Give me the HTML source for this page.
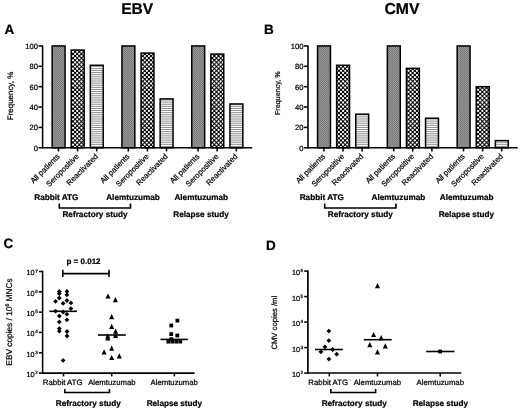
<!DOCTYPE html>
<html><head><meta charset="utf-8"><title>EBV / CMV</title>
<style>html,body{margin:0;padding:0;background:#fff;}body{width:520px;height:410px;overflow:hidden;}svg{display:block;filter:grayscale(1) blur(0.3px);text-rendering:geometricPrecision;}text{stroke:#000;stroke-width:0.22px;font-family:'Liberation Sans', sans-serif;}</style>
</head><body>
<svg width="520" height="410" viewBox="0 0 520 410" font-family='"Liberation Sans", sans-serif' fill="#000">
<defs>
<filter id="bl" x="-10%" y="-10%" width="120%" height="120%"><feGaussianBlur stdDeviation="0.45"/></filter>
</defs>
<rect width="520" height="410" fill="#fff"/>
<text x="137.2" y="14.0" font-size="15.6" font-weight="bold" text-anchor="middle">EBV</text>
<text x="402.0" y="14.1" font-size="15.8" font-weight="bold" text-anchor="middle">CMV</text>
<text x="4.4" y="34.2" font-size="13.5" font-weight="bold" text-anchor="start">A</text>
<text x="264.1" y="34.2" font-size="13.5" font-weight="bold" text-anchor="start">B</text>
<text x="3.4" y="248.2" font-size="13.5" font-weight="bold" text-anchor="start">C</text>
<text x="266.0" y="249.6" font-size="13.5" font-weight="bold" text-anchor="start">D</text>
<clipPath id="c1"><rect x="52.15" y="45.95" width="12.90" height="101.80"/></clipPath>
<rect x="52.15" y="45.95" width="12.90" height="101.80" fill="#a4a4a4"/>
<g clip-path="url(#c1)"><g stroke="#6c6c6c" stroke-width="1.026" stroke-dasharray="1.026 1.026" fill="none"><path d="M50.792 46.493H67.10M50.792 48.545H67.10M50.792 50.597H67.10M50.792 52.649H67.10M50.792 54.701H67.10M50.792 56.753H67.10M50.792 58.805H67.10M50.792 60.857H67.10M50.792 62.909H67.10M50.792 64.961H67.10M50.792 67.013H67.10M50.792 69.065H67.10M50.792 71.117H67.10M50.792 73.169H67.10M50.792 75.221H67.10M50.792 77.273H67.10M50.792 79.325H67.10M50.792 81.377H67.10M50.792 83.429H67.10M50.792 85.481H67.10M50.792 87.533H67.10M50.792 89.585H67.10M50.792 91.637H67.10M50.792 93.689H67.10M50.792 95.741H67.10M50.792 97.793H67.10M50.792 99.845H67.10M50.792 101.897H67.10M50.792 103.949H67.10M50.792 106.001H67.10M50.792 108.053H67.10M50.792 110.105H67.10M50.792 112.157H67.10M50.792 114.209H67.10M50.792 116.261H67.10M50.792 118.313H67.10M50.792 120.365H67.10M50.792 122.417H67.10M50.792 124.469H67.10M50.792 126.521H67.10M50.792 128.573H67.10M50.792 130.625H67.10M50.792 132.677H67.10M50.792 134.729H67.10M50.792 136.781H67.10M50.792 138.833H67.10M50.792 140.885H67.10M50.792 142.937H67.10M50.792 144.989H67.10M50.792 147.041H67.10"/><path d="M50.792 45.467H67.10M50.792 47.519H67.10M50.792 49.571H67.10M50.792 51.623H67.10M50.792 53.675H67.10M50.792 55.727H67.10M50.792 57.779H67.10M50.792 59.831H67.10M50.792 61.883H67.10M50.792 63.935H67.10M50.792 65.987H67.10M50.792 68.039H67.10M50.792 70.091H67.10M50.792 72.143H67.10M50.792 74.195H67.10M50.792 76.247H67.10M50.792 78.299H67.10M50.792 80.351H67.10M50.792 82.403H67.10M50.792 84.455H67.10M50.792 86.507H67.10M50.792 88.559H67.10M50.792 90.611H67.10M50.792 92.663H67.10M50.792 94.715H67.10M50.792 96.767H67.10M50.792 98.819H67.10M50.792 100.871H67.10M50.792 102.923H67.10M50.792 104.975H67.10M50.792 107.027H67.10M50.792 109.079H67.10M50.792 111.131H67.10M50.792 113.183H67.10M50.792 115.235H67.10M50.792 117.287H67.10M50.792 119.339H67.10M50.792 121.391H67.10M50.792 123.443H67.10M50.792 125.495H67.10M50.792 127.547H67.10M50.792 129.599H67.10M50.792 131.651H67.10M50.792 133.703H67.10M50.792 135.755H67.10M50.792 137.807H67.10M50.792 139.859H67.10M50.792 141.911H67.10M50.792 143.963H67.10M50.792 146.015H67.10M50.792 148.067H67.10" stroke-dashoffset="1.026"/></g></g>
<rect x="52.15" y="45.95" width="12.9" height="101.80" fill="none" stroke="#000" stroke-width="1.5"/>
<clipPath id="c2"><rect x="71.25" y="50.02" width="12.90" height="97.73"/></clipPath>
<rect x="71.25" y="50.02" width="12.90" height="97.73" fill="#000"/>
<g clip-path="url(#c2)" stroke="#fff" stroke-width="2.3" stroke-linecap="round" stroke-dasharray="0 4.22" fill="none"><path d="M64.56 47.63H88.37M64.56 51.85H88.37M64.56 56.07H88.37M64.56 60.29H88.37M64.56 64.51H88.37M64.56 68.73H88.37M64.56 72.95H88.37M64.56 77.17H88.37M64.56 81.39H88.37M64.56 85.61H88.37M64.56 89.83H88.37M64.56 94.05H88.37M64.56 98.27H88.37M64.56 102.49H88.37M64.56 106.71H88.37M64.56 110.93H88.37M64.56 115.15H88.37M64.56 119.37H88.37M64.56 123.59H88.37M64.56 127.81H88.37M64.56 132.03H88.37M64.56 136.25H88.37M64.56 140.47H88.37M64.56 144.69H88.37M64.56 148.91H88.37"/><path d="M66.67 49.74H88.37M66.67 53.96H88.37M66.67 58.18H88.37M66.67 62.40H88.37M66.67 66.62H88.37M66.67 70.84H88.37M66.67 75.06H88.37M66.67 79.28H88.37M66.67 83.50H88.37M66.67 87.72H88.37M66.67 91.94H88.37M66.67 96.16H88.37M66.67 100.38H88.37M66.67 104.60H88.37M66.67 108.82H88.37M66.67 113.04H88.37M66.67 117.26H88.37M66.67 121.48H88.37M66.67 125.70H88.37M66.67 129.92H88.37M66.67 134.14H88.37M66.67 138.36H88.37M66.67 142.58H88.37M66.67 146.80H88.37"/></g>
<rect x="71.25" y="50.02" width="12.9" height="97.73" fill="none" stroke="#000" stroke-width="1.5"/>
<clipPath id="c3"><rect x="90.35" y="65.29" width="12.90" height="82.46"/></clipPath>
<path clip-path="url(#c3)" d="M90.35 64.14H103.25M90.35 66.25H103.25M90.35 68.36H103.25M90.35 70.47H103.25M90.35 72.58H103.25M90.35 74.69H103.25M90.35 76.80H103.25M90.35 78.91H103.25M90.35 81.02H103.25M90.35 83.13H103.25M90.35 85.24H103.25M90.35 87.35H103.25M90.35 89.46H103.25M90.35 91.57H103.25M90.35 93.68H103.25M90.35 95.79H103.25M90.35 97.90H103.25M90.35 100.01H103.25M90.35 102.12H103.25M90.35 104.23H103.25M90.35 106.34H103.25M90.35 108.45H103.25M90.35 110.56H103.25M90.35 112.67H103.25M90.35 114.78H103.25M90.35 116.89H103.25M90.35 119.00H103.25M90.35 121.11H103.25M90.35 123.22H103.25M90.35 125.33H103.25M90.35 127.44H103.25M90.35 129.55H103.25M90.35 131.66H103.25M90.35 133.77H103.25M90.35 135.88H103.25M90.35 137.99H103.25M90.35 140.10H103.25M90.35 142.21H103.25M90.35 144.32H103.25M90.35 146.43H103.25M90.35 148.54H103.25" stroke="#000" stroke-width="0.45" fill="none"/>
<rect x="90.35" y="65.29" width="12.9" height="82.46" fill="none" stroke="#000" stroke-width="1.5"/>
<clipPath id="c4"><rect x="121.95" y="45.95" width="12.90" height="101.80"/></clipPath>
<rect x="121.95" y="45.95" width="12.90" height="101.80" fill="#a4a4a4"/>
<g clip-path="url(#c4)"><g stroke="#6c6c6c" stroke-width="1.026" stroke-dasharray="1.026 1.026" fill="none"><path d="M119.792 46.493H136.90M119.792 48.545H136.90M119.792 50.597H136.90M119.792 52.649H136.90M119.792 54.701H136.90M119.792 56.753H136.90M119.792 58.805H136.90M119.792 60.857H136.90M119.792 62.909H136.90M119.792 64.961H136.90M119.792 67.013H136.90M119.792 69.065H136.90M119.792 71.117H136.90M119.792 73.169H136.90M119.792 75.221H136.90M119.792 77.273H136.90M119.792 79.325H136.90M119.792 81.377H136.90M119.792 83.429H136.90M119.792 85.481H136.90M119.792 87.533H136.90M119.792 89.585H136.90M119.792 91.637H136.90M119.792 93.689H136.90M119.792 95.741H136.90M119.792 97.793H136.90M119.792 99.845H136.90M119.792 101.897H136.90M119.792 103.949H136.90M119.792 106.001H136.90M119.792 108.053H136.90M119.792 110.105H136.90M119.792 112.157H136.90M119.792 114.209H136.90M119.792 116.261H136.90M119.792 118.313H136.90M119.792 120.365H136.90M119.792 122.417H136.90M119.792 124.469H136.90M119.792 126.521H136.90M119.792 128.573H136.90M119.792 130.625H136.90M119.792 132.677H136.90M119.792 134.729H136.90M119.792 136.781H136.90M119.792 138.833H136.90M119.792 140.885H136.90M119.792 142.937H136.90M119.792 144.989H136.90M119.792 147.041H136.90"/><path d="M119.792 45.467H136.90M119.792 47.519H136.90M119.792 49.571H136.90M119.792 51.623H136.90M119.792 53.675H136.90M119.792 55.727H136.90M119.792 57.779H136.90M119.792 59.831H136.90M119.792 61.883H136.90M119.792 63.935H136.90M119.792 65.987H136.90M119.792 68.039H136.90M119.792 70.091H136.90M119.792 72.143H136.90M119.792 74.195H136.90M119.792 76.247H136.90M119.792 78.299H136.90M119.792 80.351H136.90M119.792 82.403H136.90M119.792 84.455H136.90M119.792 86.507H136.90M119.792 88.559H136.90M119.792 90.611H136.90M119.792 92.663H136.90M119.792 94.715H136.90M119.792 96.767H136.90M119.792 98.819H136.90M119.792 100.871H136.90M119.792 102.923H136.90M119.792 104.975H136.90M119.792 107.027H136.90M119.792 109.079H136.90M119.792 111.131H136.90M119.792 113.183H136.90M119.792 115.235H136.90M119.792 117.287H136.90M119.792 119.339H136.90M119.792 121.391H136.90M119.792 123.443H136.90M119.792 125.495H136.90M119.792 127.547H136.90M119.792 129.599H136.90M119.792 131.651H136.90M119.792 133.703H136.90M119.792 135.755H136.90M119.792 137.807H136.90M119.792 139.859H136.90M119.792 141.911H136.90M119.792 143.963H136.90M119.792 146.015H136.90M119.792 148.067H136.90" stroke-dashoffset="1.026"/></g></g>
<rect x="121.95" y="45.95" width="12.9" height="101.80" fill="none" stroke="#000" stroke-width="1.5"/>
<clipPath id="c5"><rect x="141.05" y="53.08" width="12.90" height="94.67"/></clipPath>
<rect x="141.05" y="53.08" width="12.90" height="94.67" fill="#000"/>
<g clip-path="url(#c5)" stroke="#fff" stroke-width="2.3" stroke-linecap="round" stroke-dasharray="0 4.22" fill="none"><path d="M136.30 51.85H158.17M136.30 56.07H158.17M136.30 60.29H158.17M136.30 64.51H158.17M136.30 68.73H158.17M136.30 72.95H158.17M136.30 77.17H158.17M136.30 81.39H158.17M136.30 85.61H158.17M136.30 89.83H158.17M136.30 94.05H158.17M136.30 98.27H158.17M136.30 102.49H158.17M136.30 106.71H158.17M136.30 110.93H158.17M136.30 115.15H158.17M136.30 119.37H158.17M136.30 123.59H158.17M136.30 127.81H158.17M136.30 132.03H158.17M136.30 136.25H158.17M136.30 140.47H158.17M136.30 144.69H158.17M136.30 148.91H158.17"/><path d="M138.41 49.74H158.17M138.41 53.96H158.17M138.41 58.18H158.17M138.41 62.40H158.17M138.41 66.62H158.17M138.41 70.84H158.17M138.41 75.06H158.17M138.41 79.28H158.17M138.41 83.50H158.17M138.41 87.72H158.17M138.41 91.94H158.17M138.41 96.16H158.17M138.41 100.38H158.17M138.41 104.60H158.17M138.41 108.82H158.17M138.41 113.04H158.17M138.41 117.26H158.17M138.41 121.48H158.17M138.41 125.70H158.17M138.41 129.92H158.17M138.41 134.14H158.17M138.41 138.36H158.17M138.41 142.58H158.17M138.41 146.80H158.17"/></g>
<rect x="141.05" y="53.08" width="12.9" height="94.67" fill="none" stroke="#000" stroke-width="1.5"/>
<clipPath id="c6"><rect x="160.15" y="98.89" width="12.90" height="48.86"/></clipPath>
<path clip-path="url(#c6)" d="M160.15 97.90H173.05M160.15 100.01H173.05M160.15 102.12H173.05M160.15 104.23H173.05M160.15 106.34H173.05M160.15 108.45H173.05M160.15 110.56H173.05M160.15 112.67H173.05M160.15 114.78H173.05M160.15 116.89H173.05M160.15 119.00H173.05M160.15 121.11H173.05M160.15 123.22H173.05M160.15 125.33H173.05M160.15 127.44H173.05M160.15 129.55H173.05M160.15 131.66H173.05M160.15 133.77H173.05M160.15 135.88H173.05M160.15 137.99H173.05M160.15 140.10H173.05M160.15 142.21H173.05M160.15 144.32H173.05M160.15 146.43H173.05M160.15 148.54H173.05" stroke="#000" stroke-width="0.45" fill="none"/>
<rect x="160.15" y="98.89" width="12.9" height="48.86" fill="none" stroke="#000" stroke-width="1.5"/>
<clipPath id="c7"><rect x="191.75" y="45.95" width="12.90" height="101.80"/></clipPath>
<rect x="191.75" y="45.95" width="12.90" height="101.80" fill="#a4a4a4"/>
<g clip-path="url(#c7)"><g stroke="#6c6c6c" stroke-width="1.026" stroke-dasharray="1.026 1.026" fill="none"><path d="M189.792 46.493H206.70M189.792 48.545H206.70M189.792 50.597H206.70M189.792 52.649H206.70M189.792 54.701H206.70M189.792 56.753H206.70M189.792 58.805H206.70M189.792 60.857H206.70M189.792 62.909H206.70M189.792 64.961H206.70M189.792 67.013H206.70M189.792 69.065H206.70M189.792 71.117H206.70M189.792 73.169H206.70M189.792 75.221H206.70M189.792 77.273H206.70M189.792 79.325H206.70M189.792 81.377H206.70M189.792 83.429H206.70M189.792 85.481H206.70M189.792 87.533H206.70M189.792 89.585H206.70M189.792 91.637H206.70M189.792 93.689H206.70M189.792 95.741H206.70M189.792 97.793H206.70M189.792 99.845H206.70M189.792 101.897H206.70M189.792 103.949H206.70M189.792 106.001H206.70M189.792 108.053H206.70M189.792 110.105H206.70M189.792 112.157H206.70M189.792 114.209H206.70M189.792 116.261H206.70M189.792 118.313H206.70M189.792 120.365H206.70M189.792 122.417H206.70M189.792 124.469H206.70M189.792 126.521H206.70M189.792 128.573H206.70M189.792 130.625H206.70M189.792 132.677H206.70M189.792 134.729H206.70M189.792 136.781H206.70M189.792 138.833H206.70M189.792 140.885H206.70M189.792 142.937H206.70M189.792 144.989H206.70M189.792 147.041H206.70"/><path d="M189.792 45.467H206.70M189.792 47.519H206.70M189.792 49.571H206.70M189.792 51.623H206.70M189.792 53.675H206.70M189.792 55.727H206.70M189.792 57.779H206.70M189.792 59.831H206.70M189.792 61.883H206.70M189.792 63.935H206.70M189.792 65.987H206.70M189.792 68.039H206.70M189.792 70.091H206.70M189.792 72.143H206.70M189.792 74.195H206.70M189.792 76.247H206.70M189.792 78.299H206.70M189.792 80.351H206.70M189.792 82.403H206.70M189.792 84.455H206.70M189.792 86.507H206.70M189.792 88.559H206.70M189.792 90.611H206.70M189.792 92.663H206.70M189.792 94.715H206.70M189.792 96.767H206.70M189.792 98.819H206.70M189.792 100.871H206.70M189.792 102.923H206.70M189.792 104.975H206.70M189.792 107.027H206.70M189.792 109.079H206.70M189.792 111.131H206.70M189.792 113.183H206.70M189.792 115.235H206.70M189.792 117.287H206.70M189.792 119.339H206.70M189.792 121.391H206.70M189.792 123.443H206.70M189.792 125.495H206.70M189.792 127.547H206.70M189.792 129.599H206.70M189.792 131.651H206.70M189.792 133.703H206.70M189.792 135.755H206.70M189.792 137.807H206.70M189.792 139.859H206.70M189.792 141.911H206.70M189.792 143.963H206.70M189.792 146.015H206.70M189.792 148.067H206.70" stroke-dashoffset="1.026"/></g></g>
<rect x="191.75" y="45.95" width="12.9" height="101.80" fill="none" stroke="#000" stroke-width="1.5"/>
<clipPath id="c8"><rect x="210.85" y="54.09" width="12.90" height="93.66"/></clipPath>
<rect x="210.85" y="54.09" width="12.90" height="93.66" fill="#000"/>
<g clip-path="url(#c8)" stroke="#fff" stroke-width="2.3" stroke-linecap="round" stroke-dasharray="0 4.22" fill="none"><path d="M203.82 51.85H227.97M203.82 56.07H227.97M203.82 60.29H227.97M203.82 64.51H227.97M203.82 68.73H227.97M203.82 72.95H227.97M203.82 77.17H227.97M203.82 81.39H227.97M203.82 85.61H227.97M203.82 89.83H227.97M203.82 94.05H227.97M203.82 98.27H227.97M203.82 102.49H227.97M203.82 106.71H227.97M203.82 110.93H227.97M203.82 115.15H227.97M203.82 119.37H227.97M203.82 123.59H227.97M203.82 127.81H227.97M203.82 132.03H227.97M203.82 136.25H227.97M203.82 140.47H227.97M203.82 144.69H227.97M203.82 148.91H227.97"/><path d="M205.93 53.96H227.97M205.93 58.18H227.97M205.93 62.40H227.97M205.93 66.62H227.97M205.93 70.84H227.97M205.93 75.06H227.97M205.93 79.28H227.97M205.93 83.50H227.97M205.93 87.72H227.97M205.93 91.94H227.97M205.93 96.16H227.97M205.93 100.38H227.97M205.93 104.60H227.97M205.93 108.82H227.97M205.93 113.04H227.97M205.93 117.26H227.97M205.93 121.48H227.97M205.93 125.70H227.97M205.93 129.92H227.97M205.93 134.14H227.97M205.93 138.36H227.97M205.93 142.58H227.97M205.93 146.80H227.97"/></g>
<rect x="210.85" y="54.09" width="12.9" height="93.66" fill="none" stroke="#000" stroke-width="1.5"/>
<clipPath id="c9"><rect x="229.95" y="103.98" width="12.90" height="43.77"/></clipPath>
<path clip-path="url(#c9)" d="M229.95 102.12H242.85M229.95 104.23H242.85M229.95 106.34H242.85M229.95 108.45H242.85M229.95 110.56H242.85M229.95 112.67H242.85M229.95 114.78H242.85M229.95 116.89H242.85M229.95 119.00H242.85M229.95 121.11H242.85M229.95 123.22H242.85M229.95 125.33H242.85M229.95 127.44H242.85M229.95 129.55H242.85M229.95 131.66H242.85M229.95 133.77H242.85M229.95 135.88H242.85M229.95 137.99H242.85M229.95 140.10H242.85M229.95 142.21H242.85M229.95 144.32H242.85M229.95 146.43H242.85M229.95 148.54H242.85" stroke="#000" stroke-width="0.45" fill="none"/>
<rect x="229.95" y="103.98" width="12.9" height="43.77" fill="none" stroke="#000" stroke-width="1.5"/>
<line x1="42.6" y1="45.4" x2="42.6" y2="148.45" stroke="#000" stroke-width="1.55"/>
<line x1="38.5" y1="147.75" x2="42.6" y2="147.75" stroke="#000" stroke-width="1.55"/>
<text x="38.0" y="150.6" font-size="7.6" text-anchor="end">0</text>
<line x1="38.5" y1="127.39" x2="42.6" y2="127.39" stroke="#000" stroke-width="1.55"/>
<text x="38.0" y="130.24" font-size="7.6" text-anchor="end">20</text>
<line x1="38.5" y1="107.03" x2="42.6" y2="107.03" stroke="#000" stroke-width="1.55"/>
<text x="38.0" y="109.88" font-size="7.6" text-anchor="end">40</text>
<line x1="38.5" y1="86.67" x2="42.6" y2="86.67" stroke="#000" stroke-width="1.55"/>
<text x="38.0" y="89.52" font-size="7.6" text-anchor="end">60</text>
<line x1="38.5" y1="66.31" x2="42.6" y2="66.31" stroke="#000" stroke-width="1.55"/>
<text x="38.0" y="69.16" font-size="7.6" text-anchor="end">80</text>
<line x1="38.5" y1="45.95" x2="42.6" y2="45.95" stroke="#000" stroke-width="1.55"/>
<text x="38.0" y="48.800000000000004" font-size="7.6" text-anchor="end">100</text>
<line x1="42.6" y1="147.75" x2="252.3" y2="147.75" stroke="#000" stroke-width="1.55"/>
<line x1="58.5" y1="147.75" x2="58.5" y2="151.45" stroke="#000" stroke-width="1.55"/>
<text x="60.3" y="157.0" font-size="7.75" text-anchor="end" transform="rotate(-45 60.3 157.0)">All patients</text>
<line x1="77.6" y1="147.75" x2="77.6" y2="151.45" stroke="#000" stroke-width="1.55"/>
<text x="79.4" y="157.0" font-size="7.75" text-anchor="end" transform="rotate(-45 79.4 157.0)">Seropositive</text>
<line x1="96.7" y1="147.75" x2="96.7" y2="151.45" stroke="#000" stroke-width="1.55"/>
<text x="98.5" y="157.0" font-size="7.75" text-anchor="end" transform="rotate(-45 98.5 157.0)">Reactivated</text>
<line x1="128.3" y1="147.75" x2="128.3" y2="151.45" stroke="#000" stroke-width="1.55"/>
<text x="130.1" y="157.0" font-size="7.75" text-anchor="end" transform="rotate(-45 130.1 157.0)">All patients</text>
<line x1="147.39999999999998" y1="147.75" x2="147.39999999999998" y2="151.45" stroke="#000" stroke-width="1.55"/>
<text x="149.2" y="157.0" font-size="7.75" text-anchor="end" transform="rotate(-45 149.2 157.0)">Seropositive</text>
<line x1="166.5" y1="147.75" x2="166.5" y2="151.45" stroke="#000" stroke-width="1.55"/>
<text x="168.3" y="157.0" font-size="7.75" text-anchor="end" transform="rotate(-45 168.3 157.0)">Reactivated</text>
<line x1="198.1" y1="147.75" x2="198.1" y2="151.45" stroke="#000" stroke-width="1.55"/>
<text x="199.9" y="157.0" font-size="7.75" text-anchor="end" transform="rotate(-45 199.9 157.0)">All patients</text>
<line x1="217.2" y1="147.75" x2="217.2" y2="151.45" stroke="#000" stroke-width="1.55"/>
<text x="219.0" y="157.0" font-size="7.75" text-anchor="end" transform="rotate(-45 219.0 157.0)">Seropositive</text>
<line x1="236.3" y1="147.75" x2="236.3" y2="151.45" stroke="#000" stroke-width="1.55"/>
<text x="238.1" y="157.0" font-size="7.75" text-anchor="end" transform="rotate(-45 238.1 157.0)">Reactivated</text>
<text x="13.2" y="96" font-size="7.95" text-anchor="middle" transform="rotate(-90 13.2 96)">Frequency, %</text>
<text x="34.3" y="199.7" font-size="8.2" font-weight="bold" text-anchor="start">Rabbit ATG</text>
<text x="106.2" y="199.7" font-size="8.2" font-weight="bold" text-anchor="start">Alemtuzumab</text>
<text x="174.4" y="199.7" font-size="8.2" font-weight="bold" text-anchor="start">Alemtuzumab</text>
<path d="M59.3 203.6V208H130.5V203.6" fill="none" stroke="#000" stroke-width="1.6"/>
<text x="95" y="217" font-size="8.2" font-weight="bold" text-anchor="middle">Refractory study</text>
<text x="201" y="217" font-size="8.2" font-weight="bold" text-anchor="middle">Relapse study</text>
<clipPath id="c10"><rect x="317.55" y="45.95" width="12.90" height="101.80"/></clipPath>
<rect x="317.55" y="45.95" width="12.90" height="101.80" fill="#a4a4a4"/>
<g clip-path="url(#c10)"><g stroke="#6c6c6c" stroke-width="1.026" stroke-dasharray="1.026 1.026" fill="none"><path d="M315.792 46.493H332.50M315.792 48.545H332.50M315.792 50.597H332.50M315.792 52.649H332.50M315.792 54.701H332.50M315.792 56.753H332.50M315.792 58.805H332.50M315.792 60.857H332.50M315.792 62.909H332.50M315.792 64.961H332.50M315.792 67.013H332.50M315.792 69.065H332.50M315.792 71.117H332.50M315.792 73.169H332.50M315.792 75.221H332.50M315.792 77.273H332.50M315.792 79.325H332.50M315.792 81.377H332.50M315.792 83.429H332.50M315.792 85.481H332.50M315.792 87.533H332.50M315.792 89.585H332.50M315.792 91.637H332.50M315.792 93.689H332.50M315.792 95.741H332.50M315.792 97.793H332.50M315.792 99.845H332.50M315.792 101.897H332.50M315.792 103.949H332.50M315.792 106.001H332.50M315.792 108.053H332.50M315.792 110.105H332.50M315.792 112.157H332.50M315.792 114.209H332.50M315.792 116.261H332.50M315.792 118.313H332.50M315.792 120.365H332.50M315.792 122.417H332.50M315.792 124.469H332.50M315.792 126.521H332.50M315.792 128.573H332.50M315.792 130.625H332.50M315.792 132.677H332.50M315.792 134.729H332.50M315.792 136.781H332.50M315.792 138.833H332.50M315.792 140.885H332.50M315.792 142.937H332.50M315.792 144.989H332.50M315.792 147.041H332.50"/><path d="M315.792 45.467H332.50M315.792 47.519H332.50M315.792 49.571H332.50M315.792 51.623H332.50M315.792 53.675H332.50M315.792 55.727H332.50M315.792 57.779H332.50M315.792 59.831H332.50M315.792 61.883H332.50M315.792 63.935H332.50M315.792 65.987H332.50M315.792 68.039H332.50M315.792 70.091H332.50M315.792 72.143H332.50M315.792 74.195H332.50M315.792 76.247H332.50M315.792 78.299H332.50M315.792 80.351H332.50M315.792 82.403H332.50M315.792 84.455H332.50M315.792 86.507H332.50M315.792 88.559H332.50M315.792 90.611H332.50M315.792 92.663H332.50M315.792 94.715H332.50M315.792 96.767H332.50M315.792 98.819H332.50M315.792 100.871H332.50M315.792 102.923H332.50M315.792 104.975H332.50M315.792 107.027H332.50M315.792 109.079H332.50M315.792 111.131H332.50M315.792 113.183H332.50M315.792 115.235H332.50M315.792 117.287H332.50M315.792 119.339H332.50M315.792 121.391H332.50M315.792 123.443H332.50M315.792 125.495H332.50M315.792 127.547H332.50M315.792 129.599H332.50M315.792 131.651H332.50M315.792 133.703H332.50M315.792 135.755H332.50M315.792 137.807H332.50M315.792 139.859H332.50M315.792 141.911H332.50M315.792 143.963H332.50M315.792 146.015H332.50M315.792 148.067H332.50" stroke-dashoffset="1.026"/></g></g>
<rect x="317.55" y="45.95" width="12.9" height="101.80" fill="none" stroke="#000" stroke-width="1.5"/>
<clipPath id="c11"><rect x="336.65" y="65.29" width="12.90" height="82.46"/></clipPath>
<rect x="336.65" y="65.29" width="12.90" height="82.46" fill="#000"/>
<g clip-path="url(#c11)" stroke="#fff" stroke-width="2.3" stroke-linecap="round" stroke-dasharray="0 4.22" fill="none"><path d="M330.42 64.51H353.77M330.42 68.73H353.77M330.42 72.95H353.77M330.42 77.17H353.77M330.42 81.39H353.77M330.42 85.61H353.77M330.42 89.83H353.77M330.42 94.05H353.77M330.42 98.27H353.77M330.42 102.49H353.77M330.42 106.71H353.77M330.42 110.93H353.77M330.42 115.15H353.77M330.42 119.37H353.77M330.42 123.59H353.77M330.42 127.81H353.77M330.42 132.03H353.77M330.42 136.25H353.77M330.42 140.47H353.77M330.42 144.69H353.77M330.42 148.91H353.77"/><path d="M332.53 62.40H353.77M332.53 66.62H353.77M332.53 70.84H353.77M332.53 75.06H353.77M332.53 79.28H353.77M332.53 83.50H353.77M332.53 87.72H353.77M332.53 91.94H353.77M332.53 96.16H353.77M332.53 100.38H353.77M332.53 104.60H353.77M332.53 108.82H353.77M332.53 113.04H353.77M332.53 117.26H353.77M332.53 121.48H353.77M332.53 125.70H353.77M332.53 129.92H353.77M332.53 134.14H353.77M332.53 138.36H353.77M332.53 142.58H353.77M332.53 146.80H353.77"/></g>
<rect x="336.65" y="65.29" width="12.9" height="82.46" fill="none" stroke="#000" stroke-width="1.5"/>
<clipPath id="c12"><rect x="355.75" y="114.16" width="12.90" height="33.59"/></clipPath>
<path clip-path="url(#c12)" d="M355.75 112.67H368.65M355.75 114.78H368.65M355.75 116.89H368.65M355.75 119.00H368.65M355.75 121.11H368.65M355.75 123.22H368.65M355.75 125.33H368.65M355.75 127.44H368.65M355.75 129.55H368.65M355.75 131.66H368.65M355.75 133.77H368.65M355.75 135.88H368.65M355.75 137.99H368.65M355.75 140.10H368.65M355.75 142.21H368.65M355.75 144.32H368.65M355.75 146.43H368.65M355.75 148.54H368.65" stroke="#000" stroke-width="0.45" fill="none"/>
<rect x="355.75" y="114.16" width="12.9" height="33.59" fill="none" stroke="#000" stroke-width="1.5"/>
<clipPath id="c13"><rect x="387.35" y="45.95" width="12.90" height="101.80"/></clipPath>
<rect x="387.35" y="45.95" width="12.90" height="101.80" fill="#a4a4a4"/>
<g clip-path="url(#c13)"><g stroke="#6c6c6c" stroke-width="1.026" stroke-dasharray="1.026 1.026" fill="none"><path d="M385.792 46.493H402.30M385.792 48.545H402.30M385.792 50.597H402.30M385.792 52.649H402.30M385.792 54.701H402.30M385.792 56.753H402.30M385.792 58.805H402.30M385.792 60.857H402.30M385.792 62.909H402.30M385.792 64.961H402.30M385.792 67.013H402.30M385.792 69.065H402.30M385.792 71.117H402.30M385.792 73.169H402.30M385.792 75.221H402.30M385.792 77.273H402.30M385.792 79.325H402.30M385.792 81.377H402.30M385.792 83.429H402.30M385.792 85.481H402.30M385.792 87.533H402.30M385.792 89.585H402.30M385.792 91.637H402.30M385.792 93.689H402.30M385.792 95.741H402.30M385.792 97.793H402.30M385.792 99.845H402.30M385.792 101.897H402.30M385.792 103.949H402.30M385.792 106.001H402.30M385.792 108.053H402.30M385.792 110.105H402.30M385.792 112.157H402.30M385.792 114.209H402.30M385.792 116.261H402.30M385.792 118.313H402.30M385.792 120.365H402.30M385.792 122.417H402.30M385.792 124.469H402.30M385.792 126.521H402.30M385.792 128.573H402.30M385.792 130.625H402.30M385.792 132.677H402.30M385.792 134.729H402.30M385.792 136.781H402.30M385.792 138.833H402.30M385.792 140.885H402.30M385.792 142.937H402.30M385.792 144.989H402.30M385.792 147.041H402.30"/><path d="M385.792 45.467H402.30M385.792 47.519H402.30M385.792 49.571H402.30M385.792 51.623H402.30M385.792 53.675H402.30M385.792 55.727H402.30M385.792 57.779H402.30M385.792 59.831H402.30M385.792 61.883H402.30M385.792 63.935H402.30M385.792 65.987H402.30M385.792 68.039H402.30M385.792 70.091H402.30M385.792 72.143H402.30M385.792 74.195H402.30M385.792 76.247H402.30M385.792 78.299H402.30M385.792 80.351H402.30M385.792 82.403H402.30M385.792 84.455H402.30M385.792 86.507H402.30M385.792 88.559H402.30M385.792 90.611H402.30M385.792 92.663H402.30M385.792 94.715H402.30M385.792 96.767H402.30M385.792 98.819H402.30M385.792 100.871H402.30M385.792 102.923H402.30M385.792 104.975H402.30M385.792 107.027H402.30M385.792 109.079H402.30M385.792 111.131H402.30M385.792 113.183H402.30M385.792 115.235H402.30M385.792 117.287H402.30M385.792 119.339H402.30M385.792 121.391H402.30M385.792 123.443H402.30M385.792 125.495H402.30M385.792 127.547H402.30M385.792 129.599H402.30M385.792 131.651H402.30M385.792 133.703H402.30M385.792 135.755H402.30M385.792 137.807H402.30M385.792 139.859H402.30M385.792 141.911H402.30M385.792 143.963H402.30M385.792 146.015H402.30M385.792 148.067H402.30" stroke-dashoffset="1.026"/></g></g>
<rect x="387.35" y="45.95" width="12.9" height="101.80" fill="none" stroke="#000" stroke-width="1.5"/>
<clipPath id="c14"><rect x="406.45" y="68.35" width="12.90" height="79.40"/></clipPath>
<rect x="406.45" y="68.35" width="12.90" height="79.40" fill="#000"/>
<g clip-path="url(#c14)" stroke="#fff" stroke-width="2.3" stroke-linecap="round" stroke-dasharray="0 4.22" fill="none"><path d="M402.16 64.51H423.57M402.16 68.73H423.57M402.16 72.95H423.57M402.16 77.17H423.57M402.16 81.39H423.57M402.16 85.61H423.57M402.16 89.83H423.57M402.16 94.05H423.57M402.16 98.27H423.57M402.16 102.49H423.57M402.16 106.71H423.57M402.16 110.93H423.57M402.16 115.15H423.57M402.16 119.37H423.57M402.16 123.59H423.57M402.16 127.81H423.57M402.16 132.03H423.57M402.16 136.25H423.57M402.16 140.47H423.57M402.16 144.69H423.57M402.16 148.91H423.57"/><path d="M404.27 66.62H423.57M404.27 70.84H423.57M404.27 75.06H423.57M404.27 79.28H423.57M404.27 83.50H423.57M404.27 87.72H423.57M404.27 91.94H423.57M404.27 96.16H423.57M404.27 100.38H423.57M404.27 104.60H423.57M404.27 108.82H423.57M404.27 113.04H423.57M404.27 117.26H423.57M404.27 121.48H423.57M404.27 125.70H423.57M404.27 129.92H423.57M404.27 134.14H423.57M404.27 138.36H423.57M404.27 142.58H423.57M404.27 146.80H423.57"/></g>
<rect x="406.45" y="68.35" width="12.9" height="79.40" fill="none" stroke="#000" stroke-width="1.5"/>
<clipPath id="c15"><rect x="425.55" y="118.23" width="12.90" height="29.52"/></clipPath>
<path clip-path="url(#c15)" d="M425.55 116.89H438.45M425.55 119.00H438.45M425.55 121.11H438.45M425.55 123.22H438.45M425.55 125.33H438.45M425.55 127.44H438.45M425.55 129.55H438.45M425.55 131.66H438.45M425.55 133.77H438.45M425.55 135.88H438.45M425.55 137.99H438.45M425.55 140.10H438.45M425.55 142.21H438.45M425.55 144.32H438.45M425.55 146.43H438.45M425.55 148.54H438.45" stroke="#000" stroke-width="0.45" fill="none"/>
<rect x="425.55" y="118.23" width="12.9" height="29.52" fill="none" stroke="#000" stroke-width="1.5"/>
<clipPath id="c16"><rect x="457.15" y="45.95" width="12.90" height="101.80"/></clipPath>
<rect x="457.15" y="45.95" width="12.90" height="101.80" fill="#a4a4a4"/>
<g clip-path="url(#c16)"><g stroke="#6c6c6c" stroke-width="1.026" stroke-dasharray="1.026 1.026" fill="none"><path d="M455.792 46.493H472.10M455.792 48.545H472.10M455.792 50.597H472.10M455.792 52.649H472.10M455.792 54.701H472.10M455.792 56.753H472.10M455.792 58.805H472.10M455.792 60.857H472.10M455.792 62.909H472.10M455.792 64.961H472.10M455.792 67.013H472.10M455.792 69.065H472.10M455.792 71.117H472.10M455.792 73.169H472.10M455.792 75.221H472.10M455.792 77.273H472.10M455.792 79.325H472.10M455.792 81.377H472.10M455.792 83.429H472.10M455.792 85.481H472.10M455.792 87.533H472.10M455.792 89.585H472.10M455.792 91.637H472.10M455.792 93.689H472.10M455.792 95.741H472.10M455.792 97.793H472.10M455.792 99.845H472.10M455.792 101.897H472.10M455.792 103.949H472.10M455.792 106.001H472.10M455.792 108.053H472.10M455.792 110.105H472.10M455.792 112.157H472.10M455.792 114.209H472.10M455.792 116.261H472.10M455.792 118.313H472.10M455.792 120.365H472.10M455.792 122.417H472.10M455.792 124.469H472.10M455.792 126.521H472.10M455.792 128.573H472.10M455.792 130.625H472.10M455.792 132.677H472.10M455.792 134.729H472.10M455.792 136.781H472.10M455.792 138.833H472.10M455.792 140.885H472.10M455.792 142.937H472.10M455.792 144.989H472.10M455.792 147.041H472.10"/><path d="M455.792 45.467H472.10M455.792 47.519H472.10M455.792 49.571H472.10M455.792 51.623H472.10M455.792 53.675H472.10M455.792 55.727H472.10M455.792 57.779H472.10M455.792 59.831H472.10M455.792 61.883H472.10M455.792 63.935H472.10M455.792 65.987H472.10M455.792 68.039H472.10M455.792 70.091H472.10M455.792 72.143H472.10M455.792 74.195H472.10M455.792 76.247H472.10M455.792 78.299H472.10M455.792 80.351H472.10M455.792 82.403H472.10M455.792 84.455H472.10M455.792 86.507H472.10M455.792 88.559H472.10M455.792 90.611H472.10M455.792 92.663H472.10M455.792 94.715H472.10M455.792 96.767H472.10M455.792 98.819H472.10M455.792 100.871H472.10M455.792 102.923H472.10M455.792 104.975H472.10M455.792 107.027H472.10M455.792 109.079H472.10M455.792 111.131H472.10M455.792 113.183H472.10M455.792 115.235H472.10M455.792 117.287H472.10M455.792 119.339H472.10M455.792 121.391H472.10M455.792 123.443H472.10M455.792 125.495H472.10M455.792 127.547H472.10M455.792 129.599H472.10M455.792 131.651H472.10M455.792 133.703H472.10M455.792 135.755H472.10M455.792 137.807H472.10M455.792 139.859H472.10M455.792 141.911H472.10M455.792 143.963H472.10M455.792 146.015H472.10M455.792 148.067H472.10" stroke-dashoffset="1.026"/></g></g>
<rect x="457.15" y="45.95" width="12.9" height="101.80" fill="none" stroke="#000" stroke-width="1.5"/>
<clipPath id="c17"><rect x="476.25" y="86.67" width="12.90" height="61.08"/></clipPath>
<rect x="476.25" y="86.67" width="12.90" height="61.08" fill="#000"/>
<g clip-path="url(#c17)" stroke="#fff" stroke-width="2.3" stroke-linecap="round" stroke-dasharray="0 4.22" fill="none"><path d="M469.68 85.61H493.37M469.68 89.83H493.37M469.68 94.05H493.37M469.68 98.27H493.37M469.68 102.49H493.37M469.68 106.71H493.37M469.68 110.93H493.37M469.68 115.15H493.37M469.68 119.37H493.37M469.68 123.59H493.37M469.68 127.81H493.37M469.68 132.03H493.37M469.68 136.25H493.37M469.68 140.47H493.37M469.68 144.69H493.37M469.68 148.91H493.37"/><path d="M471.79 83.50H493.37M471.79 87.72H493.37M471.79 91.94H493.37M471.79 96.16H493.37M471.79 100.38H493.37M471.79 104.60H493.37M471.79 108.82H493.37M471.79 113.04H493.37M471.79 117.26H493.37M471.79 121.48H493.37M471.79 125.70H493.37M471.79 129.92H493.37M471.79 134.14H493.37M471.79 138.36H493.37M471.79 142.58H493.37M471.79 146.80H493.37"/></g>
<rect x="476.25" y="86.67" width="12.9" height="61.08" fill="none" stroke="#000" stroke-width="1.5"/>
<clipPath id="c18"><rect x="495.35" y="140.62" width="12.90" height="7.13"/></clipPath>
<path clip-path="url(#c18)" d="M495.35 140.10H508.25M495.35 142.21H508.25M495.35 144.32H508.25M495.35 146.43H508.25M495.35 148.54H508.25" stroke="#000" stroke-width="0.45" fill="none"/>
<rect x="495.35" y="140.62" width="12.9" height="7.13" fill="none" stroke="#000" stroke-width="1.5"/>
<line x1="308.0" y1="45.4" x2="308.0" y2="148.45" stroke="#000" stroke-width="1.55"/>
<line x1="303.9" y1="147.75" x2="308.0" y2="147.75" stroke="#000" stroke-width="1.55"/>
<text x="303.4" y="150.6" font-size="7.6" text-anchor="end">0</text>
<line x1="303.9" y1="127.39" x2="308.0" y2="127.39" stroke="#000" stroke-width="1.55"/>
<text x="303.4" y="130.24" font-size="7.6" text-anchor="end">20</text>
<line x1="303.9" y1="107.03" x2="308.0" y2="107.03" stroke="#000" stroke-width="1.55"/>
<text x="303.4" y="109.88" font-size="7.6" text-anchor="end">40</text>
<line x1="303.9" y1="86.67" x2="308.0" y2="86.67" stroke="#000" stroke-width="1.55"/>
<text x="303.4" y="89.52" font-size="7.6" text-anchor="end">60</text>
<line x1="303.9" y1="66.31" x2="308.0" y2="66.31" stroke="#000" stroke-width="1.55"/>
<text x="303.4" y="69.16" font-size="7.6" text-anchor="end">80</text>
<line x1="303.9" y1="45.95" x2="308.0" y2="45.95" stroke="#000" stroke-width="1.55"/>
<text x="303.4" y="48.800000000000004" font-size="7.6" text-anchor="end">100</text>
<line x1="308.0" y1="147.75" x2="517.7" y2="147.75" stroke="#000" stroke-width="1.55"/>
<line x1="323.9" y1="147.75" x2="323.9" y2="151.45" stroke="#000" stroke-width="1.55"/>
<text x="325.7" y="157.0" font-size="7.75" text-anchor="end" transform="rotate(-45 325.7 157.0)">All patients</text>
<line x1="343.0" y1="147.75" x2="343.0" y2="151.45" stroke="#000" stroke-width="1.55"/>
<text x="344.8" y="157.0" font-size="7.75" text-anchor="end" transform="rotate(-45 344.8 157.0)">Seropositive</text>
<line x1="362.09999999999997" y1="147.75" x2="362.09999999999997" y2="151.45" stroke="#000" stroke-width="1.55"/>
<text x="363.9" y="157.0" font-size="7.75" text-anchor="end" transform="rotate(-45 363.9 157.0)">Reactivated</text>
<line x1="393.7" y1="147.75" x2="393.7" y2="151.45" stroke="#000" stroke-width="1.55"/>
<text x="395.5" y="157.0" font-size="7.75" text-anchor="end" transform="rotate(-45 395.5 157.0)">All patients</text>
<line x1="412.79999999999995" y1="147.75" x2="412.79999999999995" y2="151.45" stroke="#000" stroke-width="1.55"/>
<text x="414.6" y="157.0" font-size="7.75" text-anchor="end" transform="rotate(-45 414.6 157.0)">Seropositive</text>
<line x1="431.9" y1="147.75" x2="431.9" y2="151.45" stroke="#000" stroke-width="1.55"/>
<text x="433.7" y="157.0" font-size="7.75" text-anchor="end" transform="rotate(-45 433.7 157.0)">Reactivated</text>
<line x1="463.5" y1="147.75" x2="463.5" y2="151.45" stroke="#000" stroke-width="1.55"/>
<text x="465.3" y="157.0" font-size="7.75" text-anchor="end" transform="rotate(-45 465.3 157.0)">All patients</text>
<line x1="482.59999999999997" y1="147.75" x2="482.59999999999997" y2="151.45" stroke="#000" stroke-width="1.55"/>
<text x="484.4" y="157.0" font-size="7.75" text-anchor="end" transform="rotate(-45 484.4 157.0)">Seropositive</text>
<line x1="501.7" y1="147.75" x2="501.7" y2="151.45" stroke="#000" stroke-width="1.55"/>
<text x="503.5" y="157.0" font-size="7.75" text-anchor="end" transform="rotate(-45 503.5 157.0)">Reactivated</text>
<text x="280.3" y="93.2" font-size="7.2" text-anchor="middle" transform="rotate(-90 280.3 93.2)">Frequency, %</text>
<text x="299.7" y="199.7" font-size="8.2" font-weight="bold" text-anchor="start">Rabbit ATG</text>
<text x="371.59999999999997" y="199.7" font-size="8.2" font-weight="bold" text-anchor="start">Alemtuzumab</text>
<text x="439.79999999999995" y="199.7" font-size="8.2" font-weight="bold" text-anchor="start">Alemtuzumab</text>
<path d="M324.7 203.6V208H395.9V203.6" fill="none" stroke="#000" stroke-width="1.6"/>
<text x="360.4" y="217" font-size="8.2" font-weight="bold" text-anchor="middle">Refractory study</text>
<text x="466.4" y="217" font-size="8.2" font-weight="bold" text-anchor="middle">Relapse study</text>
<line x1="42.6" y1="270.8" x2="42.6" y2="373.8" stroke="#000" stroke-width="1.55"/>
<line x1="38.9" y1="271.5" x2="42.6" y2="271.5" stroke="#000" stroke-width="1.55"/>
<text x="34.70" y="275.40" font-size="7.3" text-anchor="end">10</text>
<text x="35.30" y="272.50" font-size="4.6">7</text>
<line x1="38.9" y1="291.82" x2="42.6" y2="291.82" stroke="#000" stroke-width="1.55"/>
<text x="34.70" y="295.72" font-size="7.3" text-anchor="end">10</text>
<text x="35.30" y="292.82" font-size="4.6">6</text>
<line x1="38.9" y1="312.14" x2="42.6" y2="312.14" stroke="#000" stroke-width="1.55"/>
<text x="34.70" y="316.04" font-size="7.3" text-anchor="end">10</text>
<text x="35.30" y="313.14" font-size="4.6">5</text>
<line x1="38.9" y1="332.46000000000004" x2="42.6" y2="332.46000000000004" stroke="#000" stroke-width="1.55"/>
<text x="34.70" y="336.36" font-size="7.3" text-anchor="end">10</text>
<text x="35.30" y="333.46" font-size="4.6">4</text>
<line x1="38.9" y1="352.78000000000003" x2="42.6" y2="352.78000000000003" stroke="#000" stroke-width="1.55"/>
<text x="34.70" y="356.68" font-size="7.3" text-anchor="end">10</text>
<text x="35.30" y="353.78" font-size="4.6">3</text>
<line x1="38.9" y1="373.1" x2="42.6" y2="373.1" stroke="#000" stroke-width="1.55"/>
<text x="34.70" y="377.00" font-size="7.3" text-anchor="end">10</text>
<text x="35.30" y="374.10" font-size="4.6">2</text>
<line x1="42.6" y1="373.1" x2="194.6" y2="373.1" stroke="#000" stroke-width="1.55"/>
<line x1="63.5" y1="373.1" x2="63.5" y2="376.4" stroke="#000" stroke-width="1.55"/>
<line x1="111.7" y1="373.1" x2="111.7" y2="376.4" stroke="#000" stroke-width="1.55"/>
<line x1="174.4" y1="373.1" x2="174.4" y2="376.4" stroke="#000" stroke-width="1.55"/>
<text x="62.7" y="384.6" font-size="7.8" text-anchor="middle">Rabbit ATG</text>
<text x="111.85" y="384.6" font-size="7.75" text-anchor="middle">Alemtuzumab</text>
<text x="174.25" y="384.6" font-size="7.75" text-anchor="middle">Alemtuzumab</text>
<path d="M64.8 389V392.5H109.4V389" fill="none" stroke="#000" stroke-width="1.6"/>
<text x="88.4" y="405.8" font-size="8.2" font-weight="bold" text-anchor="middle">Refractory study</text>
<text x="174.4" y="405.8" font-size="8.2" font-weight="bold" text-anchor="middle">Relapse study</text>
<path d="M62.8 269.8V277M62.8 273.6H109M109 269.8V277" fill="none" stroke="#000" stroke-width="1.6"/>
<text x="66.5" y="263.7" font-size="8" font-weight="bold" text-anchor="start">p = 0.012</text>
<text transform="translate(11.8 322) rotate(-90)" font-size="8.3" text-anchor="middle">EBV copies / 10<tspan font-size="5.2" dy="-3">6</tspan><tspan dy="3">&#160;MNCs</tspan></text>
<path d="M59.3 289.1L61.699999999999996 291.5L59.3 293.9L56.9 291.5Z"/>
<path d="M59.3 291.3L61.699999999999996 293.7L59.3 296.09999999999997L56.9 293.7Z"/>
<path d="M66.9 289.1L69.30000000000001 291.5L66.9 293.9L64.5 291.5Z"/>
<path d="M66.9 292.40000000000003L69.30000000000001 294.8L66.9 297.2L64.5 294.8Z"/>
<path d="M59.3 295.70000000000005L61.699999999999996 298.1L59.3 300.5L56.9 298.1Z"/>
<path d="M55.6 298.90000000000003L58.0 301.3L55.6 303.7L53.2 301.3Z"/>
<path d="M66.9 298.1L69.30000000000001 300.5L66.9 302.9L64.5 300.5Z"/>
<path d="M63.1 301.0L65.5 303.4L63.1 305.79999999999995L60.7 303.4Z"/>
<path d="M70.9 300.5L73.30000000000001 302.9L70.9 305.29999999999995L68.5 302.9Z"/>
<path d="M70.9 306.20000000000005L73.30000000000001 308.6L70.9 311.0L68.5 308.6Z"/>
<path d="M55.6 308.8L58.0 311.2L55.6 313.59999999999997L53.2 311.2Z"/>
<path d="M63.1 309.6L65.5 312.0L63.1 314.4L60.7 312.0Z"/>
<path d="M66.9 311.8L69.30000000000001 314.2L66.9 316.59999999999997L64.5 314.2Z"/>
<path d="M59.3 313.70000000000005L61.699999999999996 316.1L59.3 318.5L56.9 316.1Z"/>
<path d="M66.9 317.40000000000003L69.30000000000001 319.8L66.9 322.2L64.5 319.8Z"/>
<path d="M59.3 319.5L61.699999999999996 321.9L59.3 324.29999999999995L56.9 321.9Z"/>
<path d="M59.3 326.20000000000005L61.699999999999996 328.6L59.3 331.0L56.9 328.6Z"/>
<path d="M59.3 328.8L61.699999999999996 331.2L59.3 333.59999999999997L56.9 331.2Z"/>
<path d="M67.0 329.1L69.4 331.5L67.0 333.9L64.6 331.5Z"/>
<path d="M67.0 333.6L69.4 336.0L67.0 338.4L64.6 336.0Z"/>
<path d="M63.1 358.0L65.5 360.4L63.1 362.79999999999995L60.7 360.4Z"/>
<line x1="49.4" y1="311.3" x2="77" y2="311.3" stroke="#000" stroke-width="1.6"/>
<path d="M108 293.4L110.55 298.6L105.45 298.6Z"/>
<path d="M115.4 297.09999999999997L117.95 302.3L112.85000000000001 302.3Z"/>
<path d="M111.7 314.0L114.25 319.20000000000005L109.15 319.20000000000005Z"/>
<path d="M111.7 323.7L114.25 328.90000000000003L109.15 328.90000000000003Z"/>
<path d="M115.6 328.5L118.14999999999999 333.70000000000005L113.05 333.70000000000005Z"/>
<path d="M115.6 332.79999999999995L118.14999999999999 338.0L113.05 338.0Z"/>
<path d="M107.8 333.2L110.35 338.40000000000003L105.25 338.40000000000003Z"/>
<path d="M107.8 335.2L110.35 340.40000000000003L105.25 340.40000000000003Z"/>
<path d="M111.7 345.5L114.25 350.70000000000005L109.15 350.70000000000005Z"/>
<path d="M104.1 349.2L106.64999999999999 354.40000000000003L101.55 354.40000000000003Z"/>
<path d="M119.3 353.29999999999995L121.85 358.5L116.75 358.5Z"/>
<path d="M111.7 354.9L114.25 360.1L109.15 360.1Z"/>
<line x1="97.9" y1="335.0" x2="125.8" y2="335.0" stroke="#000" stroke-width="1.6"/>
<rect x="175.5" y="318.70000000000005" width="3.8" height="3.8"/>
<rect x="169.35" y="323.6" width="3.8" height="3.8"/>
<rect x="169.35" y="332.20000000000005" width="3.8" height="3.8"/>
<rect x="175.4" y="333.6" width="3.8" height="3.8"/>
<rect x="169.35" y="337.3" width="3.8" height="3.8"/>
<rect x="166.4" y="339.70000000000005" width="3.8" height="3.8"/>
<rect x="170.4" y="339.70000000000005" width="3.8" height="3.8"/>
<rect x="174.4" y="339.70000000000005" width="3.8" height="3.8"/>
<rect x="178.4" y="339.70000000000005" width="3.8" height="3.8"/>
<line x1="160.5" y1="339.4" x2="187.8" y2="339.4" stroke="#000" stroke-width="1.6"/>
<line x1="307.9" y1="270.40000000000003" x2="307.9" y2="373.8" stroke="#000" stroke-width="1.7"/>
<line x1="304.2" y1="271.1" x2="307.9" y2="271.1" stroke="#000" stroke-width="1.55"/>
<text x="300.00" y="275.00" font-size="7.3" text-anchor="end">10</text>
<text x="300.60" y="272.10" font-size="4.6">6</text>
<line x1="304.2" y1="296.6" x2="307.9" y2="296.6" stroke="#000" stroke-width="1.55"/>
<text x="300.00" y="300.50" font-size="7.3" text-anchor="end">10</text>
<text x="300.60" y="297.60" font-size="4.6">5</text>
<line x1="304.2" y1="322.1" x2="307.9" y2="322.1" stroke="#000" stroke-width="1.55"/>
<text x="300.00" y="326.00" font-size="7.3" text-anchor="end">10</text>
<text x="300.60" y="323.10" font-size="4.6">4</text>
<line x1="304.2" y1="347.6" x2="307.9" y2="347.6" stroke="#000" stroke-width="1.55"/>
<text x="300.00" y="351.50" font-size="7.3" text-anchor="end">10</text>
<text x="300.60" y="348.60" font-size="4.6">3</text>
<line x1="304.2" y1="373.1" x2="307.9" y2="373.1" stroke="#000" stroke-width="1.55"/>
<text x="300.00" y="377.00" font-size="7.3" text-anchor="end">10</text>
<text x="300.60" y="374.10" font-size="4.6">2</text>
<line x1="307.9" y1="373.1" x2="461.3" y2="373.1" stroke="#000" stroke-width="1.5"/>
<line x1="329.3" y1="373.1" x2="329.3" y2="376.4" stroke="#000" stroke-width="1.55"/>
<line x1="377.5" y1="373.1" x2="377.5" y2="376.4" stroke="#000" stroke-width="1.55"/>
<line x1="440.2" y1="373.1" x2="440.2" y2="376.4" stroke="#000" stroke-width="1.55"/>
<text x="328.2" y="384.6" font-size="7.8" text-anchor="middle">Rabbit ATG</text>
<text x="377.4" y="384.6" font-size="7.75" text-anchor="middle">Alemtuzumab</text>
<text x="440.3" y="384.6" font-size="7.75" text-anchor="middle">Alemtuzumab</text>
<path d="M330.8 389V392.5H375.6V389" fill="none" stroke="#000" stroke-width="1.6"/>
<text x="354.2" y="405.8" font-size="8.2" font-weight="bold" text-anchor="middle">Refractory study</text>
<text x="440.4" y="405.8" font-size="8.2" font-weight="bold" text-anchor="middle">Relapse study</text>
<text transform="translate(276.6 322.7) rotate(-90)" font-size="7.7" text-anchor="middle">CMV copies /ml</text>
<path d="M328.9 328.70000000000005L331.29999999999995 331.1L328.9 333.5L326.5 331.1Z"/>
<path d="M328.9 338.20000000000005L331.29999999999995 340.6L328.9 343.0L326.5 340.6Z"/>
<path d="M325 344.40000000000003L327.4 346.8L325 349.2L322.6 346.8Z"/>
<path d="M332.6 347.1L335.0 349.5L332.6 351.9L330.20000000000005 349.5Z"/>
<path d="M320.9 349.40000000000003L323.29999999999995 351.8L320.9 354.2L318.5 351.8Z"/>
<path d="M336.7 351.8L339.09999999999997 354.2L336.7 356.59999999999997L334.3 354.2Z"/>
<path d="M328.9 356.70000000000005L331.29999999999995 359.1L328.9 361.5L326.5 359.1Z"/>
<line x1="315" y1="349.5" x2="342.8" y2="349.5" stroke="#000" stroke-width="1.6"/>
<path d="M377.5 283.0L380.05 288.20000000000005L374.95 288.20000000000005Z"/>
<path d="M373.6 331.9L376.15000000000003 337.1L371.05 337.1Z"/>
<path d="M381.2 335.0L383.75 340.20000000000005L378.65 340.20000000000005Z"/>
<path d="M369.8 342.0L372.35 347.20000000000005L367.25 347.20000000000005Z"/>
<path d="M385.3 343.2L387.85 348.40000000000003L382.75 348.40000000000003Z"/>
<path d="M377.5 349.2L380.05 354.40000000000003L374.95 354.40000000000003Z"/>
<line x1="363.75" y1="339.7" x2="391.7" y2="339.7" stroke="#000" stroke-width="1.6"/>
<rect x="438.20000000000005" y="349.6" width="3.8" height="3.8"/>
<line x1="426.2" y1="351.5" x2="454.5" y2="351.5" stroke="#000" stroke-width="1.6"/>
</svg></body></html>
